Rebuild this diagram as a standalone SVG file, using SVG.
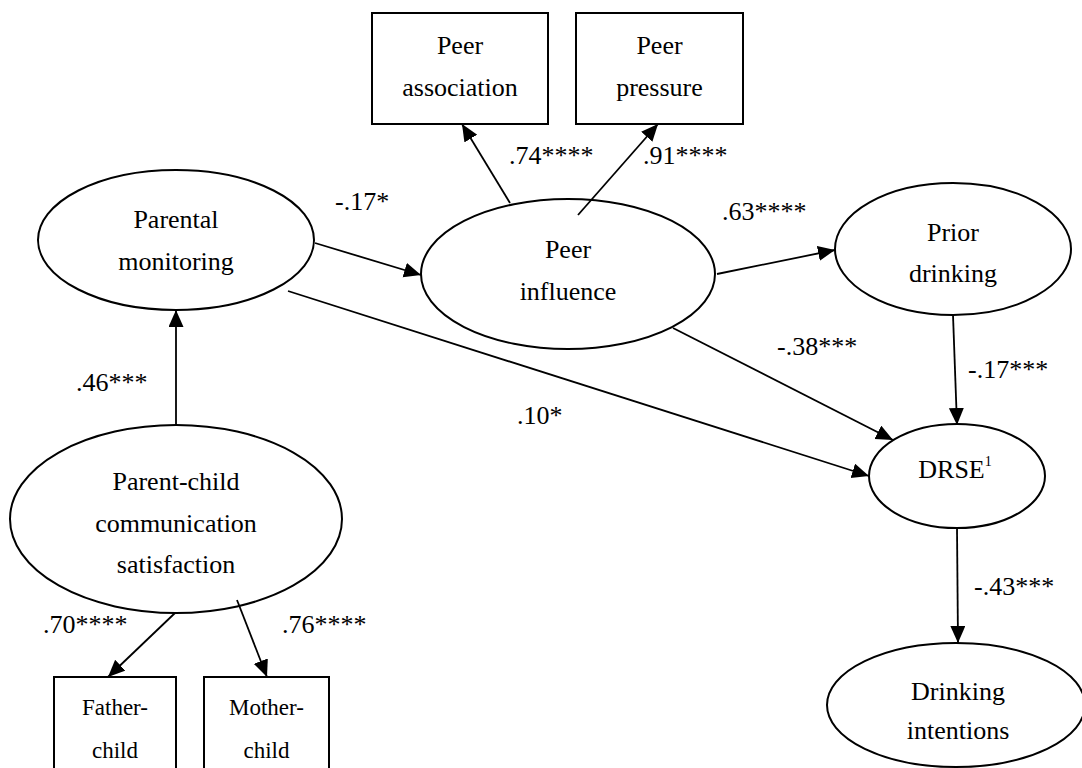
<svg xmlns="http://www.w3.org/2000/svg" width="1082" height="768" viewBox="0 0 1082 768">
<style>
.n{fill:#fff;stroke:#000;stroke-width:2}
.t{font-family:"Liberation Serif","Times New Roman",serif;font-size:26px;fill:#000;text-anchor:middle}
.s{font-size:23px}
.l{font-family:"Liberation Serif","Times New Roman",serif;font-size:26px;fill:#000}
.c{stroke:#000;stroke-width:1.8;fill:none;marker-end:url(#a)}
</style>
<defs>
<marker id="a" markerUnits="userSpaceOnUse" markerWidth="18" markerHeight="16" refX="17" refY="7.5" orient="auto">
<path d="M0,0 L17,7.5 L0,15 z" fill="#000"/>
</marker>
</defs>
<rect width="1082" height="768" fill="#fff"/>
<g id="n-peer-association"><rect class="n" x="372" y="13" width="176" height="111"/><text class="t" x="460" y="54">Peer</text><text class="t" x="460" y="96">association</text></g>
<g id="n-peer-pressure"><rect class="n" x="576" y="13" width="167" height="111"/><text class="t" x="659.5" y="54">Peer</text><text class="t" x="659.5" y="96">pressure</text></g>
<g id="n-parental-monitoring"><ellipse class="n" cx="176" cy="240" rx="138" ry="70"/><text class="t" x="176" y="228">Parental</text><text class="t" x="176" y="270">monitoring</text></g>
<g id="n-peer-influence"><ellipse class="n" cx="568" cy="274" rx="147" ry="75"/><text class="t" x="568" y="258">Peer</text><text class="t" x="568" y="300">influence</text></g>
<g id="n-prior-drinking"><ellipse class="n" cx="953" cy="249" rx="118" ry="66"/><text class="t" x="953" y="241">Prior</text><text class="t" x="953" y="282">drinking</text></g>
<g id="n-drse"><ellipse class="n" cx="957" cy="476" rx="88" ry="52"/><text class="t" x="955" y="478">DRSE<tspan font-size="14" dy="-12">1</tspan></text></g>
<g id="n-drinking-intentions"><ellipse class="n" cx="956" cy="705" rx="129" ry="62"/><text class="t" x="958" y="700">Drinking</text><text class="t" x="958" y="739">intentions</text></g>
<g id="n-pccs"><ellipse class="n" cx="176" cy="519" rx="166" ry="94"/><text class="t" x="176" y="490">Parent-child</text><text class="t" x="176" y="532">communication</text><text class="t" x="176" y="573">satisfaction</text></g>
<g id="n-father-child"><rect class="n" x="54" y="677" width="122" height="100"/><text class="t s" x="115" y="715">Father-</text><text class="t s" x="115" y="758">child</text></g>
<g id="n-mother-child"><rect class="n" x="204" y="677" width="125" height="100"/><text class="t s" x="266.5" y="715">Mother-</text><text class="t s" x="266.5" y="758">child</text></g>
<g id="connectors">
<line class="c" x1="176" y1="425" x2="176" y2="310"/>
<line class="c" x1="175" y1="613" x2="108" y2="677"/>
<line class="c" x1="237" y1="600" x2="267" y2="677"/>
<line class="c" x1="315" y1="243" x2="421" y2="275"/>
<line class="c" x1="288" y1="291" x2="869" y2="476"/>
<line class="c" x1="510" y1="203" x2="462" y2="124"/>
<line class="c" x1="578" y1="215" x2="658" y2="124"/>
<line class="c" x1="717" y1="274" x2="835" y2="250"/>
<line class="c" x1="673" y1="328" x2="893" y2="440"/>
<line class="c" x1="953" y1="315" x2="957" y2="425"/>
<line class="c" x1="957" y1="528" x2="958" y2="643"/>
</g>
<g id="labels">
<text class="l" x="76" y="391">.46***</text>
<text class="l" x="335" y="210">-.17*</text>
<text class="l" x="509" y="164">.74****</text>
<text class="l" x="643" y="164">.91****</text>
<text class="l" x="722" y="220">.63****</text>
<text class="l" x="777" y="355">-.38***</text>
<text class="l" x="968" y="378">-.17***</text>
<text class="l" x="517" y="424">.10*</text>
<text class="l" x="974" y="595">-.43***</text>
<text class="l" x="43" y="633">.70****</text>
<text class="l" x="282" y="633">.76****</text>
</g>
</svg>
